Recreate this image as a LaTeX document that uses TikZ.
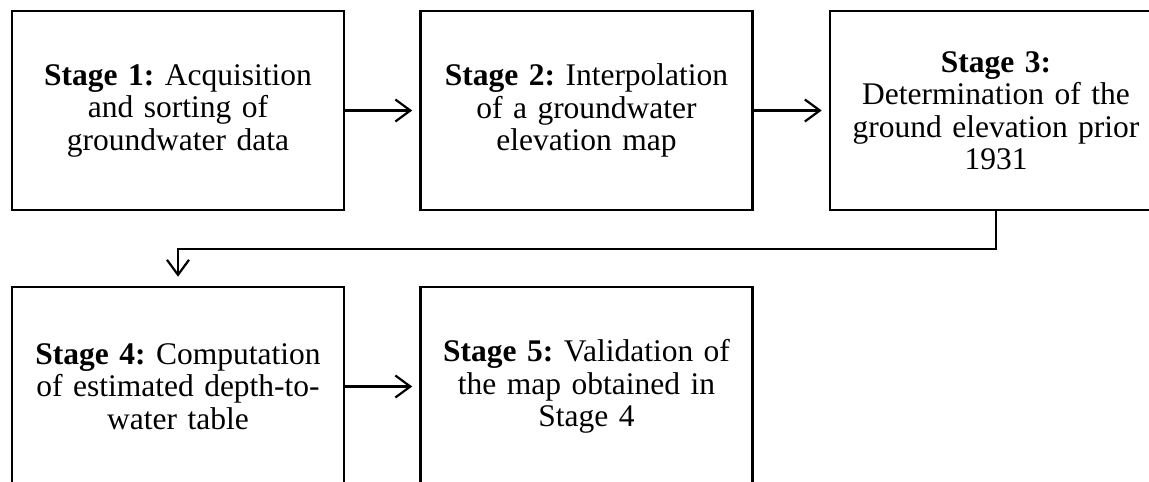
\documentclass[tikz,border=0pt]{standalone}
\usepackage{fontspec}
\setmainfont{Liberation Serif}
\usetikzlibrary{arrows.meta}
\frenchspacing
\begin{document}
\begin{tikzpicture}[x=1pt,y=-1pt,
  stagebox/.style={draw=black, line width=2.6pt, minimum width=332pt, minimum height=199pt,
    inner sep=0pt, align=center, text width=326pt,
    font=\fontsize{31.5}{32.5}\selectfont},
  flow/.style={line width=2.2pt, -{Straight Barb[length=15pt,width=22pt,line width=2.2pt]}}]
  \useasboundingbox (0,0) rectangle (1149,482);
  \clip (0,0) rectangle (1149,482);
  % stage boxes
  \node[stagebox] (s1) at (178,110.5) {\textbf{Stage 1:} Acquisition\\and sorting of\\groundwater data};
  \node[stagebox] (s2) at (586.5,110.5) {\textbf{Stage 2:} Interpolation\\of a groundwater\\elevation map};
  \node[stagebox] (s3) at (996,110.5) {\textbf{Stage 3:}\\Determination of the\\ground elevation prior\\1931};
  \node[stagebox] (s4) at (178,386.5) {\textbf{Stage 4:} Computation\\of estimated depth-to-\\water table};
  \node[stagebox] (s5) at (586.5,386.5) {\textbf{Stage 5:} Validation of\\the map obtained in\\Stage 4};
  % connectors
  \draw[flow] (s1.east) -- ([xshift=-7pt]s2.west);
  \draw[flow] (s2.east) -- ([xshift=-7pt]s3.west);
  \draw[flow] (s3.south) -- ++(0,38) -| ([yshift=9pt]s4.north);
  \draw[flow] (s4.east) -- ([xshift=-7pt]s5.west);
\end{tikzpicture}
\end{document}
